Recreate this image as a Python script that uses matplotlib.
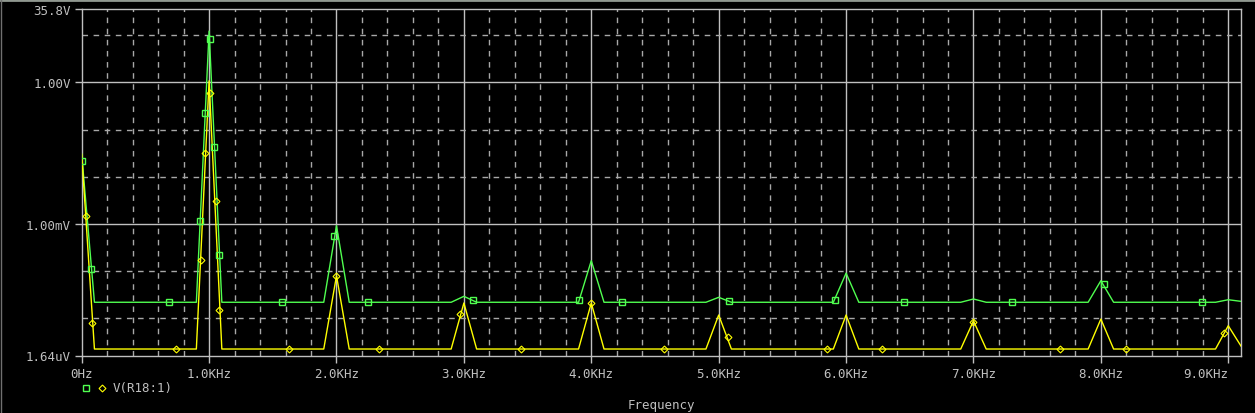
import numpy as np
import matplotlib
matplotlib.use('Agg')
import matplotlib.pyplot as plt
from matplotlib.lines import Line2D

# espectro FFT, bins de 100 Hz (frecuencia en kHz, tension en V)
freq_khz = np.round(np.arange(0, 92) * 0.1, 1)

piso_verde = 2.2e-5
piso_amarillo = 2.25e-6
# picos
picos_verde = {0.0: 0.03, 1.0: 12.2, 2.0: 9.2e-4, 3.0: 2.94e-5, 4.0: 1.67e-4,
               5.0: 2.8e-5, 6.0: 9.1e-5, 7.0: 2.58e-5, 8.0: 6.3e-5, 9.0: 2.49e-5,
               9.1: 2.3e-5}
picos_amarillo = {0.0: 0.03, 1.0: 1.08, 2.0: 8.0e-5, 3.0: 2.12e-5, 4.0: 2.12e-5,
                  5.0: 1.18e-5, 6.0: 1.18e-5, 7.0: 8.9e-6, 8.0: 9.7e-6, 9.0: 7.0e-6,
                  9.1: 2.6e-6}

v_verde = [picos_verde.get(f, piso_verde) for f in freq_khz]
v_amarillo = [picos_amarillo.get(f, piso_amarillo) for f in freq_khz]

# posiciones de los marcadores sobre las trazas
mk_verde_f = [0.005, 0.073, 0.687, 0.928, 0.969, 1.009, 1.040, 1.079, 1.573, 1.981,
              2.248, 3.071, 3.903, 4.240, 5.079, 5.911, 6.452, 7.299, 8.028, 8.797]
mk_verde_v = [0.0212, 1.11e-4, 2.19e-5, 1.14e-3, 0.22, 8.1, 0.042, 2.2e-4, 2.19e-5, 5.5e-4,
              2.22e-5, 2.49e-5, 2.49e-5, 2.22e-5, 2.3e-5, 2.45e-5, 2.22e-5, 2.19e-5, 5.27e-5, 2.19e-5]
mk_amar_f = [0.031, 0.083, 0.742, 0.933, 0.967, 1.009, 1.051, 1.079, 1.626, 1.997, 2.332,
             2.973, 3.451, 3.995, 4.569, 5.071, 5.848, 6.279, 6.993, 7.683, 8.201, 8.969]
mk_amar_v = [1.5e-3, 8.0e-6, 2.28e-6, 1.73e-4, 0.0318, 0.585, 3.1e-3, 1.53e-5, 2.25e-6, 7.8e-5, 2.22e-6,
             1.22e-5, 2.22e-6, 2.09e-5, 2.22e-6, 3.98e-6, 2.22e-6, 2.22e-6, 8.5e-6, 2.22e-6, 2.22e-6, 4.83e-6]

xticks = [0, 1, 2, 3, 4, 5, 6, 7, 8, 9]
xlabels = ['0Hz'] + ['%d.0KHz' % k for k in xticks[1:]]
yticks = [35.8, 1.0, 1e-3, 1.64e-6]
ylabels = ['35.8V', '1.00V', '1.00mV', '1.64uV']

gris = '#c0c0c0'
gris_dash = '#a8a8a8'
verde = '#50ff50'
amarillo = '#ffff00'
plt.rcParams['font.family'] = ['DejaVu Sans Mono']

fig = plt.figure(figsize=(12.55, 4.14), dpi=100, facecolor='black')
ax = fig.add_axes([81.7 / 1255, 57.5 / 414, 1159.3 / 1255, 346.5 / 414])
ax.set_facecolor('black')
ax.set_yscale('log')
ax.set_xlim(0, 9.1)
ax.set_ylim(1.64e-6, 35.8)

# rejilla
for x in np.arange(0.2, 9.1, 0.2):
    if abs(x - round(x)) > 1e-6:
        ax.axvline(x, color=gris_dash, lw=1, ls=(0, (4, 4)), zorder=1)
for x in range(1, 10):
    ax.axvline(x, color=gris, lw=1, zorder=1)
for y in [10, 0.1, 0.01, 1e-4, 1e-5]:
    ax.axhline(y, color=gris_dash, lw=1, ls=(0, (4, 4)), zorder=1)
for y in [1.0, 1e-3]:
    ax.axhline(y, color=gris, lw=1, zorder=1)

ax.plot(freq_khz, v_verde, color=verde, lw=1, zorder=3)
ax.plot(freq_khz, v_amarillo, color=amarillo, lw=1, zorder=3)
ax.plot(mk_verde_f, mk_verde_v, ls='none', marker='s', ms=4, mfc='none', mec=verde, mew=1, zorder=4)
ax.plot(mk_amar_f, mk_amar_v, ls='none', marker='D', ms=3.5, mfc='none', mec=amarillo, mew=0.8, zorder=4)

for s in ax.spines.values():
    s.set_color(gris)
    s.set_linewidth(1)
ax.set_xticks(xticks)
ax.set_xticklabels(xlabels)
ax.set_yticks(yticks)
ax.set_yticklabels(ylabels)
ax.minorticks_off()
ax.tick_params(colors=gris, labelcolor=gris, labelsize=9, length=5, width=1, pad=3)
# la ultima etiqueta se ajusta a la derecha para no salirse
ax.get_xticklabels()[-1].set_horizontalalignment('right')
ax.set_xlabel('Frequency', color=gris, fontsize=9, labelpad=13)

# leyenda
fig.add_artist(Line2D([86 / 1255], [1 - 389 / 414], marker='s', ms=4, mfc='none', mec=verde,
                      mew=1, ls='none', transform=fig.transFigure))
fig.add_artist(Line2D([102 / 1255], [1 - 389 / 414], marker='D', ms=3.5, mfc='none', mec=amarillo,
                      mew=0.8, ls='none', transform=fig.transFigure))
fig.text(113 / 1255, 1 - 389 / 414, 'V(R18:1)', color=gris, fontsize=9, va='center', ha='left')

# marco de la ventana
fig.add_artist(Line2D([0, 1], [0.998, 0.998], color='#909890', lw=2, transform=fig.transFigure))
fig.add_artist(Line2D([0.0005, 0.0005], [0, 1], color='#707070', lw=1, transform=fig.transFigure))

fig.savefig('out.png', dpi=100, facecolor='black')
